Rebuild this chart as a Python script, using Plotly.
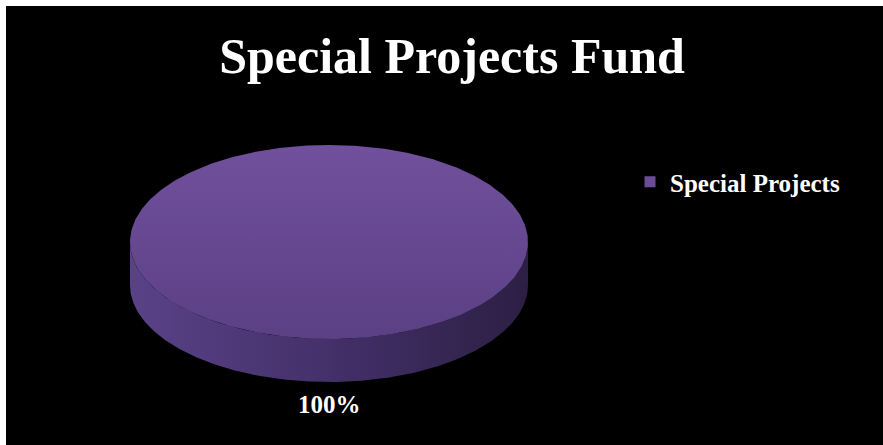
import numpy as np
import plotly.graph_objects as go

# ---- data ----
labels = ["Special Projects"]
values = [100]
title_text = "Special Projects Fund"

# ---- style / geometry (pixel-like data space) ----
W, H = 883, 445
cx, cy = 329, 242      # centre of the top face
rx, ry = 199, 97       # radii of the top face
depth = 43             # thickness of the 3-D side
top_colors = [[0, "#71509d"], [1, "#5b4084"]]
side_colors = [[0, "#5a4287"], [0.5, "#44306a"], [1, "#2c1f43"]]
legend_color = "#6a4c98"
serif = "Liberation Serif, Times New Roman, serif"

total = float(sum(values))
fig = go.Figure()

start = -np.pi / 2
for lab, val in zip(labels, values):
    frac = val / total
    sweep = 2 * np.pi * frac
    t = np.linspace(start, start + sweep, 400)

    # side (front visible part of the slice)
    lo, hi = max(start, 0.0), min(start + sweep, np.pi)
    if frac >= 1:
        lo, hi = 0.0, np.pi
    if hi > lo:
        ts = np.linspace(lo, hi, 300)
        sx = np.concatenate([cx + rx * np.cos(ts), (cx + rx * np.cos(ts))[::-1]])
        sy = np.concatenate([cy + ry * np.sin(ts), (cy + ry * np.sin(ts) + depth)[::-1]])
        fig.add_trace(go.Scatter(
            x=sx, y=sy, mode="lines", fill="toself",
            line=dict(width=0, color="rgba(0,0,0,0)"),
            fillgradient=dict(type="horizontal", colorscale=side_colors,
                              start=cx - rx, stop=cx + rx),
            hoverinfo="skip", showlegend=False))

    # top face
    px = cx + rx * np.cos(t)
    py = cy + ry * np.sin(t)
    if frac < 1:
        px = np.concatenate([[cx], px, [cx]])
        py = np.concatenate([[cy], py, [cy]])
    fig.add_trace(go.Scatter(
        x=px, y=py, mode="lines", fill="toself",
        line=dict(width=0, color="rgba(0,0,0,0)"),
        fillgradient=dict(type="vertical", colorscale=top_colors,
                          start=cy - ry, stop=cy + ry),
        hoverinfo="skip", showlegend=False))

    # percentage label outside the slice midpoint
    mid = start + sweep / 2
    lx = cx + rx * np.cos(mid)
    ly = cy + ry * np.sin(mid) + (depth if np.sin(mid) > 0 else 0) + 22 * np.sin(mid)
    fig.add_annotation(x=lx, y=ly, xref="x", yref="y",
                       text=f"<b>{frac * 100:.0f}%</b>", showarrow=False,
                       font=dict(family=serif, size=25, color="white"))

    # legend entry
    fig.add_trace(go.Scatter(
        x=[None], y=[None], mode="markers", name=lab,
        marker=dict(symbol="square", size=11, color=legend_color,
                    line=dict(width=0)),
        showlegend=True))

    start += sweep

# white frame at top and left edges of the picture
fig.add_shape(type="rect", xref="x", yref="y", x0=0, x1=W, y0=0, y1=6,
              fillcolor="white", line=dict(width=0), layer="above")
fig.add_shape(type="rect", xref="x", yref="y", x0=0, x1=6, y0=0, y1=H,
              fillcolor="white", line=dict(width=0), layer="above")

fig.update_layout(
    width=W, height=H,
    margin=dict(l=0, r=0, t=0, b=0, pad=0),
    paper_bgcolor="black",
    plot_bgcolor="black",
    title=dict(text=f"<b>{title_text}</b>", x=452 / W, xanchor="center",
               y=1 - 55 / H, yanchor="middle",
               font=dict(family=serif, size=50, color="white")),
    xaxis=dict(range=[0, W], visible=False, fixedrange=True),
    yaxis=dict(range=[H, 0], visible=False, fixedrange=True),
    legend=dict(x=630 / W, xanchor="left",
                y=1 - 182 / H, yanchor="middle",
                bgcolor="rgba(0,0,0,0)", borderwidth=0,
                font=dict(family=serif, size=25, color="white", weight="bold"),
                itemclick=False, itemdoubleclick=False),
    hovermode=False,
)

fig.write_html("out.html", include_plotlyjs=True, full_html=True,
               config={"displayModeBar": False, "staticPlot": True},
               post_script=("document.documentElement.style.background='black';"
                            "document.body.style.background='black';"
                            "document.body.style.margin='0';"
                            "document.body.style.overflow='hidden';"))
